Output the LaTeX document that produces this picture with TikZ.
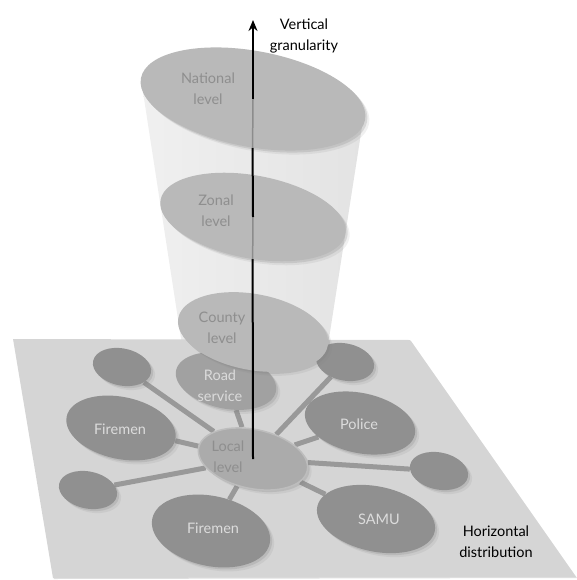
\documentclass[tikz,border=0pt]{standalone}
\usepackage{fontspec}
\setmainfont{Lato}
\usepackage{tikz}
\usetikzlibrary{arrows, arrows.meta, calc, shapes.geometric, shadows}
\pgfdeclarelayer{back}
\pgfdeclarelayer{links}
\pgfsetlayers{back,links,main}

\definecolor{planegray}{HTML}{D5D5D5}
\definecolor{tierfill}{HTML}{B9B9B9}
\definecolor{tiertext}{HTML}{8E8E8E}
\definecolor{agencyfill}{HTML}{909090}
\definecolor{agencytext}{HTML}{DCDCDC}
\definecolor{spokegray}{HTML}{999999}

\begin{document}
\begin{tikzpicture}[x=1pt,y=-1pt]
	\tikzset{blob/.style = {shape=ellipse, draw=none, inner sep=0pt, rotate=-12,
		drop shadow={opacity=.12, shadow xshift=4pt, shadow yshift=-4pt},
		drop shadow={opacity=.22, shadow xshift=2pt, shadow yshift=-2pt}}}
	\tikzset{agency/.style = {blob, fill=agencyfill}}
	\tikzset{tierbox/.style = {blob, fill=tierfill, rotate=1.5}}
	\tikzset{txt/.style = {align=center, inner sep=0pt, font=\fontsize{14.5}{21}\selectfont}}
	\tikzset{spoke/.style = {line width=5pt, spokegray}}
	\tikzset{upline/.style = {line width=2pt, black}}
	\tikzset{dimline/.style = {line width=1.5pt, black!45}}

	\useasboundingbox (0,0) rectangle (576,580);

	% the plane and the cone
	\begin{pgfonlayer}{back}
		\shade[left color=black!6, right color=black!11] (143,92) -- (364,114) -- (328,345) -- (182,345) -- cycle;
		\fill[planegray, drop shadow={opacity=.25, shadow xshift=1pt, shadow yshift=-1pt}]
			(13,339) -- (410,340) -- (576,577) -- (53,578) -- cycle;
	\end{pgfonlayer}

	% horizontal distribution
	\node[agency, minimum width=59pt, minimum height=37pt] (tl) at (122,367) {};
	\node[agency, minimum width=59pt, minimum height=37pt] (tr) at (345,362) {};
	\node[agency, minimum width=59pt, minimum height=37pt] (sl) at (88,490) {};
	\node[agency, minimum width=59pt, minimum height=37pt] (sr) at (439,471) {};
	\node[agency, minimum width=111pt, minimum height=62pt] (fireL) at (121,428) {};
	\node[agency, minimum width=112pt, minimum height=60pt] (police) at (360,423) {};
	\node[agency, minimum width=120pt, minimum height=70pt] (fireB) at (211,531) {};
	\node[agency, minimum width=120pt, minimum height=65pt] (samu) at (376,519) {};
	\node[agency, fill=black!37, minimum width=102pt, minimum height=55pt] (road) at (226,381) {};
	\node[agency, fill=black!33, draw=black!26, line width=1.5pt,
		minimum width=111pt, minimum height=59pt] (loc) at (253,459) {};

	\begin{pgfonlayer}{links}
		\foreach \n in {tl,tr,sl,sr,fireL,police,fireB,samu,road}
			\draw[spoke] (loc) -- (\n);
	\end{pgfonlayer}

	\node[txt, agencytext] (fireLlbl) at (120,429) {Firemen};
	\node[txt, agencytext] (policelbl) at (359,424) {Police};
	\node[txt, agencytext] (fireBlbl) at (213,528) {Firemen};
	\node[txt, agencytext] (samulbl) at (379,519) {SAMU};
	\node[txt, black!14] (roadlbl) at (220,386) {Road\\service};
	\node[txt, tiertext] (loclbl) at (228,457) {Local\\level};

	% vertical granularity
	\node[tierbox, minimum width=152pt, minimum height=76pt] (county) at (253,332) {};
	\node[tierbox, minimum width=188pt, minimum height=83pt] (zonal) at (253,217) {};
	\node[tierbox, minimum width=228pt, minimum height=96pt] (nat) at (253,99) {};
	\node[txt, tiertext] (countylbl) at (222,328) {County\\level};
	\node[txt, tiertext] (zonallbl) at (216,211) {Zonal\\level};
	\node[txt, tiertext] (natlbl) at (208,89) {National\\level};

	\coordinate (top) at (253,20);
	\draw[upline] (loc.center) -- (zonal.280.5);
	\draw[dimline] (zonal.280.5) -- (zonal.center);
	\draw[upline] (zonal.center) -- (nat.280.5);
	\draw[dimline] (nat.280.5) -- (nat.center);
	\draw[upline, -{Stealth[length=11pt, width=9pt]}] (nat.center) -- (top);

	\node[txt, black] (vlbl) at (304,36) {Vertical\\granularity};
	\node[txt, black] (hlbl) at (496,542) {Horizontal\\distribution};
\end{tikzpicture}
\end{document}
